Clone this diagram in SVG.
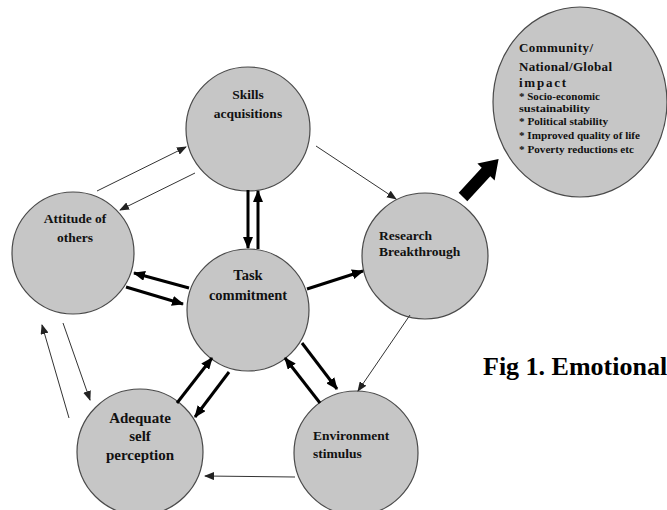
<svg xmlns="http://www.w3.org/2000/svg" width="667" height="510" viewBox="0 0 667 510">
<style>
.node{fill:#c6c6c6;stroke:#4a4a4a;stroke-width:1.2}
.lbl{font-family:"Liberation Serif","Times New Roman",serif;font-weight:bold;fill:#111}
.thin{stroke:#333;stroke-width:1;fill:none;marker-end:url(#ah)}
.thick{stroke:#000;stroke-width:3;fill:none;marker-end:url(#ahb)}
</style>
<defs>
<marker id="ah" markerUnits="userSpaceOnUse" markerWidth="10" markerHeight="8" refX="9" refY="4" orient="auto">
<path d="M0,0 L10,4 L0,8 z" fill="#222"/>
</marker>
<marker id="ahb" markerUnits="userSpaceOnUse" markerWidth="12" markerHeight="10" refX="11" refY="5" orient="auto">
<path d="M0,0 L12,5 L0,10 z" fill="#000"/>
</marker>
</defs>
<rect width="667" height="510" fill="#fff"/>

<g id="community">
<ellipse class="node" cx="580" cy="102" rx="87" ry="95"/>
<text class="lbl" font-size="13" x="519" y="52" textLength="74" lengthAdjust="spacing">Community/</text>
<text class="lbl" font-size="13" x="519" y="71" textLength="93" lengthAdjust="spacing">National/Global</text>
<text class="lbl" font-size="13" x="519" y="87" textLength="47" lengthAdjust="spacing">impact</text>
<text class="lbl" font-size="10.5" x="519" y="100" textLength="81" lengthAdjust="spacingAndGlyphs">* Socio-economic</text>
<text class="lbl" font-size="10.5" x="519" y="112" textLength="71" lengthAdjust="spacingAndGlyphs">sustainability</text>
<text class="lbl" font-size="10.5" x="519" y="125" textLength="89" lengthAdjust="spacingAndGlyphs">* Political stability</text>
<text class="lbl" font-size="10.5" x="519" y="139" textLength="121" lengthAdjust="spacingAndGlyphs">* Improved quality of life</text>
<text class="lbl" font-size="10.5" x="519" y="153" textLength="115" lengthAdjust="spacingAndGlyphs">* Poverty reductions etc</text>
</g>

<g id="skills">
<circle class="node" cx="248" cy="129" r="62"/>
<text class="lbl" font-size="13.5" x="248" y="99" text-anchor="middle">Skills</text>
<text class="lbl" font-size="13.5" x="248" y="118" text-anchor="middle">acquisitions</text>
</g>

<g id="attitude">
<circle class="node" cx="73" cy="253" r="61"/>
<text class="lbl" font-size="13.5" x="75" y="223" text-anchor="middle">Attitude of</text>
<text class="lbl" font-size="13.5" x="75" y="242" text-anchor="middle">others</text>
</g>

<g id="task">
<circle class="node" cx="248" cy="310" r="61"/>
<text class="lbl" font-size="14.5" x="248" y="280" text-anchor="middle">Task</text>
<text class="lbl" font-size="14.5" x="248" y="300" text-anchor="middle">commitment</text>
</g>

<g id="research">
<circle class="node" cx="425" cy="256" r="63"/>
<text class="lbl" font-size="13.5" x="379" y="240">Research</text>
<text class="lbl" font-size="13.5" x="379" y="256">Breakthrough</text>
</g>

<g id="adequate">
<circle class="node" cx="140" cy="452" r="63"/>
<text class="lbl" font-size="15" x="140" y="423" text-anchor="middle">Adequate</text>
<text class="lbl" font-size="15" x="140" y="441" text-anchor="middle">self</text>
<text class="lbl" font-size="15" x="140" y="460" text-anchor="middle">perception</text>
</g>

<g id="environment">
<circle class="node" cx="356" cy="453" r="62"/>
<text class="lbl" font-size="13.5" x="313" y="440">Environment</text>
<text class="lbl" font-size="13.5" x="313" y="458">stimulus</text>
</g>

<g id="connectors">
<line class="thin" x1="316" y1="146" x2="396" y2="199"/>
<line class="thin" x1="97" y1="191" x2="186" y2="147"/>
<line class="thin" x1="195" y1="173" x2="120" y2="210"/>
<line class="thick" x1="248" y1="190" x2="248" y2="248"/>
<line class="thick" x1="258" y1="249" x2="258" y2="191"/>
<line class="thick" x1="189" y1="288" x2="134" y2="273"/>
<line class="thick" x1="126" y1="287" x2="183" y2="304"/>
<line class="thick" x1="307" y1="289" x2="363" y2="271"/>
<line class="thick" x1="177" y1="403" x2="212" y2="358"/>
<line class="thick" x1="229" y1="372" x2="195" y2="417"/>
<line class="thick" x1="302" y1="343" x2="337" y2="389"/>
<line class="thick" x1="320" y1="403" x2="285" y2="358"/>
<line class="thin" x1="410" y1="315" x2="358" y2="391"/>
<line class="thin" x1="295" y1="477" x2="205" y2="476"/>
<line class="thin" x1="69" y1="418" x2="42" y2="325"/>
<line class="thin" x1="63" y1="323" x2="90" y2="400"/>
<polygon points="458.7,192.8 481.7,167.8 477.4,163.6 498.6,159.1 494.6,180.4 490.3,176.2 467.3,201.2" fill="#000"/>
</g>

<text x="483" y="375" font-family="Liberation Serif,'Times New Roman',serif" font-weight="bold" font-size="26" fill="#000">Fig 1. Emotional</text>
</svg>
